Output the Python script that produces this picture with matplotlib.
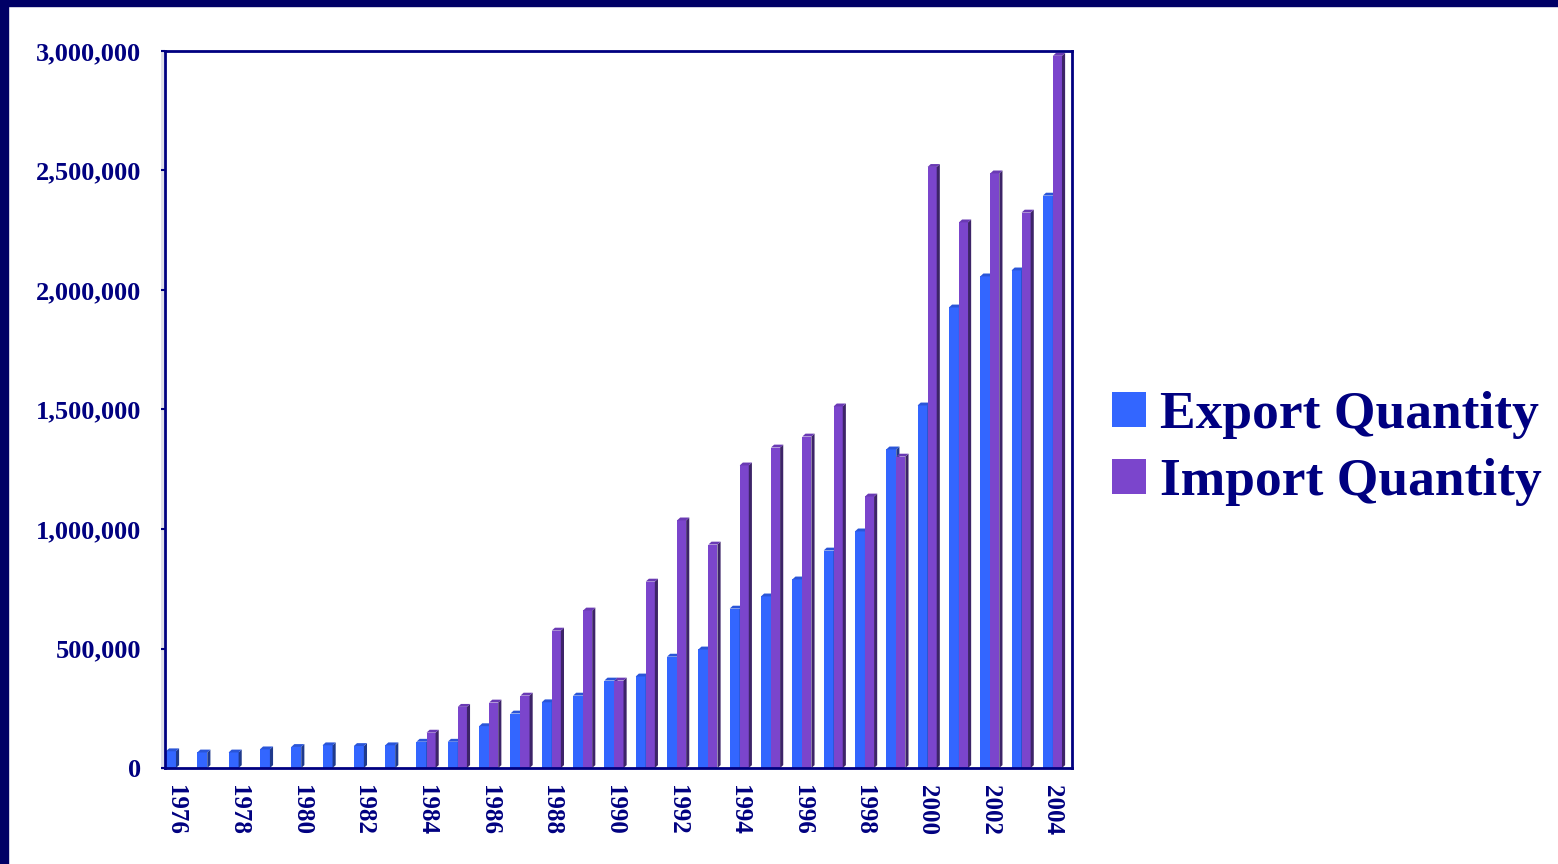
import numpy as np
import matplotlib
matplotlib.use('Agg')
import matplotlib.pyplot as plt
from matplotlib.patches import Rectangle
from matplotlib.ticker import FuncFormatter

years = list(range(1976, 2005))
export_qty = [70000, 65000, 65000, 78000, 88000, 95000, 92000, 95000, 110000, 110000,
              175000, 228000, 275000, 303000, 366000, 383000, 466000, 496000, 667000, 718000,
              789000, 910000, 990000, 1333000, 1517000, 1927000, 2057000, 2082000, 2395000]
import_qty = [0, 0, 0, 0, 0, 0, 0, 0, 148000, 256000,
              274000, 303000, 575000, 659000, 366000, 780000, 1036000, 935000, 1266000, 1341000,
              1387000, 1513000, 1136000, 1303000, 2515000, 2283000, 2488000, 2324000, 2980000]

navy = '#000080'
font = 'Liberation Serif'

exp_front, exp_top, exp_side = '#3366ff', '#2a55d8', '#1f3a8c'
imp_front, imp_top, imp_side = '#7b45cc', '#6a3ab4', '#3d2468'

fig = plt.figure(figsize=(15.58, 8.64), dpi=100)
ax = fig.add_axes([165/1558, 96/864, 907/1558, 717/864])

x = np.arange(len(years))
w_exp, w_imp = 0.32, 0.29
dx, dy = 0.10, 12000   # depth of the fake 3d side/top faces


def bar3d(x0, width, h, front, top, side, label=None):
    b = ax.bar(x0, h, width, align='edge', color=front, linewidth=0, zorder=3, label=label)
    for xi, hi in zip(x0, h):
        if hi <= 0:
            continue
        x1 = xi + width
        ax.fill([x1, x1 + dx, x1 + dx, x1], [0, dy, hi + dy, hi], color=side, lw=0, zorder=3)
        ax.fill([xi, x1, x1 + dx, xi + dx], [hi, hi, hi + dy, hi + dy], color=top, lw=0, zorder=3)
    return b


# draw group by group so each import bar sits in front of the export side face
for i in range(len(years)):
    bar3d([x[i] - w_exp], w_exp, [export_qty[i]], exp_front, exp_top, exp_side,
          label='Export Quantity' if i == 0 else None)
    bar3d([x[i]], w_imp, [import_qty[i]], imp_front, imp_top, imp_side,
          label='Import Quantity' if i == 0 else None)

ax.set_xlim(-0.35, 28.61)
ax.set_ylim(0, 3000000)
ax.set_yticks(np.arange(0, 3000001, 500000))
ax.yaxis.set_major_formatter(FuncFormatter(lambda v, p: f'{int(v):,}'))
ax.set_xticks(x[::2])
ax.set_xticklabels([str(y) for y in years[::2]], rotation=270)

for s in ax.spines.values():
    s.set_color(navy)
    s.set_linewidth(2)
    s.set_zorder(4)
ax.tick_params(axis='y', length=3, width=1.5, color=navy, pad=14, labelsize=19, labelcolor=navy)
ax.tick_params(axis='x', length=0, pad=12, labelsize=18, labelcolor=navy)
for lab in ax.get_xticklabels() + ax.get_yticklabels():
    lab.set_fontfamily(font)
    lab.set_fontweight('bold')

# faint wall shadow beside the y axis
ax.plot([-0.45, -0.45], [0, 3000000], color='#dddde8', lw=2, clip_on=False, zorder=1)

ax.legend(loc='upper left', bbox_to_anchor=(1112/1558, 1 - 391/864), bbox_transform=fig.transFigure,
          frameon=False, prop={'family': font, 'weight': 'bold', 'size': 38.5},
          labelcolor=navy, handlelength=0.64, handleheight=0.64, handletextpad=0.25,
          labelspacing=0.36, borderpad=0, borderaxespad=0)

# slide frame along the top and left edges
fig.patches.append(Rectangle((0, 1 - 6/864), 1, 6/864, transform=fig.transFigure,
                             color='#000066', zorder=10))
fig.patches.append(Rectangle((0, 0), 8/1558, 1, transform=fig.transFigure,
                             color='#000066', zorder=10))

fig.savefig('out.png', dpi=100)
